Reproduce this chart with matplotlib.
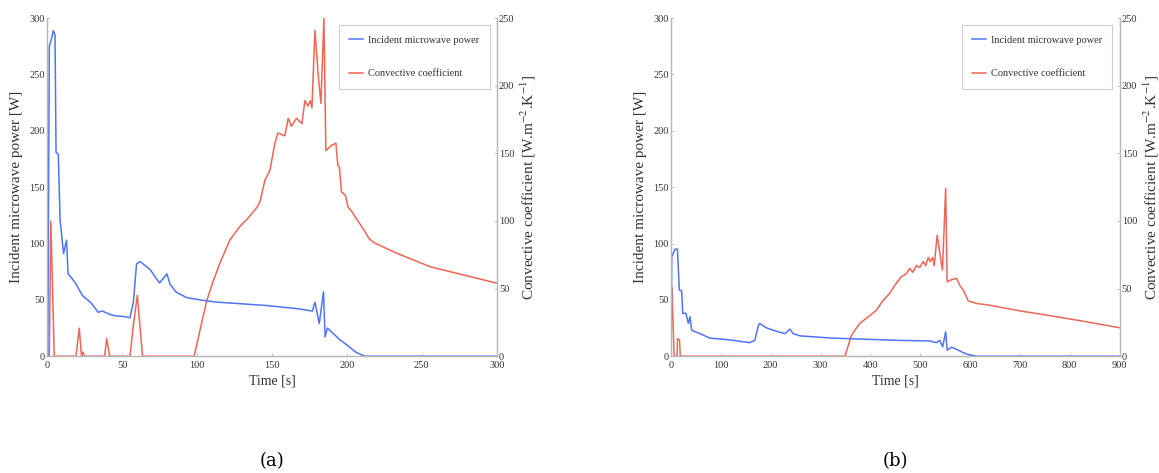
import matplotlib
matplotlib.use('Agg')
import matplotlib.pyplot as plt

# run (a): 300 s heating
t_a_power = [0, 0.5, 1.5, 3, 4.2, 5.3, 6, 7.5, 8.7, 11, 13, 14, 16, 18.9, 23.5,
             29.6, 34, 37, 42, 45, 52, 55.3, 57.6, 59.7, 62, 68.7, 75, 80, 82, 86,
             93, 102, 113, 124, 146, 168, 177, 178.7, 181.6, 184.4, 185.5, 187,
             191, 195, 200, 206, 212, 300]
power_a = [0, 0, 275, 282, 289, 285, 181, 179, 121, 91, 103, 73, 70, 65, 54,
           47, 39, 40, 37, 36, 35, 34, 48, 82, 84, 77, 65, 73, 64, 57,
           52, 50, 48, 47, 45, 42, 40, 48, 29, 57, 17, 25,
           20, 15, 10, 3.5, 0, 0]
t_a_conv = [0, 1.5, 2.5, 4.8, 19.3, 21.5, 23, 24, 25, 38.4, 39.8, 41.8, 55.3,
            57.6, 60.2, 63.7, 98.2, 102, 106.5, 111, 115.4, 122, 128.7, 134, 140,
            142, 145.3, 148.7, 152, 154, 158.6, 160.9, 163, 166.4, 170, 172, 174,
            175.6, 176.7, 178.7, 181, 182.7, 184.7, 186, 189.8, 192.7, 194, 195,
            196.4, 199, 200.9, 202.7, 207, 211.6, 214.8, 218, 233.6, 256, 278, 300]
conv_a = [0, 0, 100, 0, 0, 20.7, 0, 3, 0, 0, 13, 0, 0,
          23, 45, 0, 0, 19, 41, 56, 69, 86, 96, 102, 110,
          114, 130, 137.6, 157.5, 165, 163, 176, 170, 176, 172, 189, 185,
          189, 183.6, 241, 206.6, 187, 249.8, 152, 156, 157.5, 141, 140,
          121.5, 119, 110, 108, 100.6, 93, 87, 84, 76, 66, 60, 54]

# run (b): 900 s heating
t_b_power = [0, 1.3, 8, 12.7, 16.7, 21.4, 23.4, 30, 34.7, 38, 41.4, 58, 78, 105,
             125, 158, 168, 175, 178, 192, 212, 228.5, 238.5, 245, 259, 292, 325,
             392, 459, 519, 532, 539, 545, 551, 554, 563, 573, 587, 596, 613, 900]
power_b = [0, 88, 95, 95, 58.6, 58, 38, 38, 29, 35, 23, 20, 16, 15,
           14, 12, 14, 27, 29, 25, 22, 20, 24, 20, 18, 17, 16,
           15, 14, 13.5, 12, 14, 8.3, 21.6, 5.3, 8, 6, 3, 1.5, 0, 0]
t_b_conv = [0, 1.3, 2.5, 6, 12, 13, 17, 18.5, 349, 362, 379, 399, 412, 425, 439,
            449, 462, 472, 479, 485, 492, 499, 506, 511, 516, 520, 525, 528, 534,
            539, 544.6, 551, 554, 563, 572.7, 580, 587, 596, 612.7, 639, 700, 760,
            820, 900]
conv_b = [0, 51, 45, 0, 0, 13, 12, 0, 0, 15.5, 24.4, 30, 34, 41, 46.6,
          52.5, 58.7, 61, 65, 62, 67, 65.6, 70, 67, 73, 70, 73, 67, 89.5,
          77, 63.6, 124, 55, 56.6, 57.5, 52, 48.5, 41, 39, 37.7, 33.5, 30,
          26.3, 21]

BLUE = '#4f74f4'
RED = '#ef6556'
GREY = '#b8b8b8'
TXT = '#333333'

plt.rcParams['font.family'] = ['Liberation Serif', 'DejaVu Serif']
plt.rcParams['mathtext.fontset'] = 'stix'


def panel(fig, rect, t_p, p, t_h, h, tmax, xticks, tag):
    ax = fig.add_axes(rect)
    ax2 = ax.twinx()
    l1, = ax.plot(t_p, p, color=BLUE, lw=1.1, label='Incident microwave power')
    l2, = ax2.plot(t_h, h, color=RED, lw=1.1, label='Convective coefficient')
    ax.set_xlim(0, tmax)
    ax.set_ylim(0, 300)
    ax2.set_ylim(0, 250)
    ax.set_xticks(xticks)
    ax.set_yticks(range(0, 301, 50))
    ax2.set_yticks(range(0, 251, 50))
    for a in (ax, ax2):
        a.spines['top'].set_visible(False)
        for s in ('left', 'right', 'bottom'):
            a.spines[s].set_color(GREY)
            a.spines[s].set_linewidth(0.9)
        a.tick_params(labelsize=7.5, labelcolor=TXT, color=GREY, length=2.5,
                      width=0.6, direction='in', pad=1.5)
    ax.tick_params(axis='x', pad=3.5)
    ax.set_xlabel('Time [s]', fontsize=10, color=TXT, labelpad=3)
    ax.set_ylabel('Incident microwave power [W]', fontsize=11, color=TXT, labelpad=5)
    ax2.set_ylabel(r'Convective coefficient [W.m$^{-2}$.K$^{-1}$]', fontsize=11,
                   color=TXT, labelpad=3)
    leg = ax.legend(handles=[l1, l2], loc='upper right', bbox_to_anchor=(0.984, 0.979),
                    borderaxespad=0, fontsize=7.5, handlelength=1.3, handletextpad=0.5,
                    labelspacing=2.3, borderpad=1.0, fancybox=False, framealpha=1,
                    edgecolor='#cccccc')
    leg.get_frame().set_linewidth(0.8)
    for txt in leg.get_texts():
        txt.set_color(TXT)
    ax.set_zorder(ax2.get_zorder() + 1)
    ax.patch.set_visible(False)
    # caption below the plot
    x0, y0, w, hgt = rect
    fig.text(x0 + w / 2, 0.025, tag, ha='center', va='center', fontsize=13,
             family='DejaVu Serif')
    return ax, ax2


fig = plt.figure(figsize=(11.59, 4.73), dpi=100)
panel(fig, [0.0406, 0.247, 0.388, 0.7146], t_a_power, power_a, t_a_conv, conv_a,
      300, range(0, 301, 50), '(a)')
panel(fig, [0.579, 0.247, 0.387, 0.7146], t_b_power, power_b, t_b_conv, conv_b,
      900, range(0, 901, 100), '(b)')

fig.savefig('out.png', dpi=100)
